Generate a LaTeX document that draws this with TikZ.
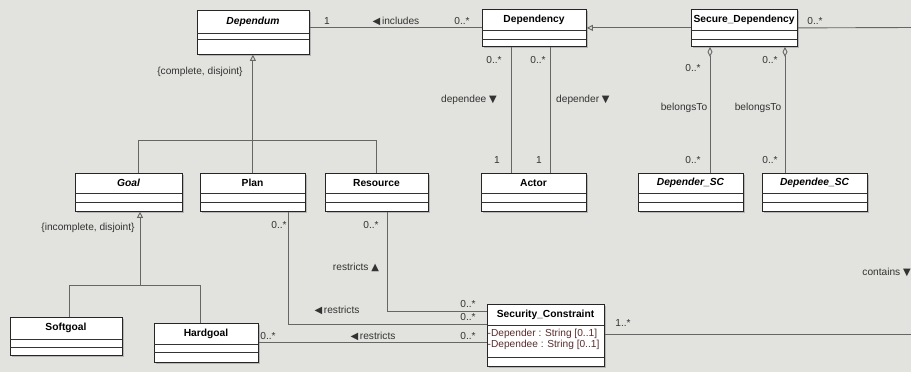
\documentclass[tikz,border=0pt]{standalone}
\usepackage{fontspec}
\setmainfont{Liberation Sans}
\newfontfamily\symfont{DejaVu Sans}
\usetikzlibrary{arrows.meta,shadows,calc}
\definecolor{bg}{HTML}{E2E3DE}
\definecolor{attrc}{HTML}{5A2C2C}
\definecolor{lnc}{HTML}{666666}
\newcommand\umlclass[8]{%
  \node[cls, minimum width=#4bp, minimum height=#5bp] (#1) at (#2,#3) {};
  \draw[sepline] ($(#1.north west)+(0,#6)$) -- ++(#4,0);
  \draw[sepline] ($(#1.north west)+(0,#7)$) -- ++(#4,0);
  \node[cname] (#1-t) at ($(#1.north west)+(#4/2,#6/2)$) {#8};
}
\newcommand\tri[1]{{\symfont\fontsize{10}{10}\selectfont #1}}
\begin{document}
\begin{tikzpicture}[x=1bp,y=-1bp,
  cls/.style={draw=black!85, fill=white, line width=0.8bp, inner sep=0, anchor=north west,
    drop shadow={shadow xshift=1.3bp, shadow yshift=-1.3bp, fill=black!45}},
  sepline/.style={draw=black!80, line width=0.7bp},
  cname/.style={font=\bfseries\fontsize{10.3}{12}\selectfont, inner sep=0},
  lbl/.style={font=\fontsize{10.2}{12}\selectfont, text=black!80, inner sep=0},
  attr/.style={font=\fontsize{10.2}{12}\selectfont, text=attrc, inner sep=0, anchor=west},
  conn/.style={draw=lnc, line width=0.9bp},
  gen/.style={conn, -{Triangle[open, length=6bp, width=6bp]}},
  agg/.style={conn, {Diamond[open, length=10bp, width=5bp]}-},
]
\fill[bg] (0,0) rectangle (911,372);
\useasboundingbox (0,0) rectangle (911,372);

% classes
\umlclass{dependum}{197}{10}{112}{44}{23}{29}{\itshape Dependum}
\umlclass{dependency}{482}{9}{104}{37}{21}{30}{Dependency}
\umlclass{securedep}{691}{9}{106}{37}{21}{30}{Secure\_Dependency}
\umlclass{goal}{75}{173}{107}{38}{20}{29}{\itshape Goal}
\umlclass{plan}{200}{173}{105}{38}{20}{29}{Plan}
\umlclass{resource}{325}{173}{103}{38}{20}{29}{Resource}
\umlclass{actor}{481}{173}{105}{38}{20}{29}{Actor}
\umlclass{dependersc}{638}{173}{105}{38}{20}{29}{\itshape Depender\_SC}
\umlclass{dependeesc}{762}{173}{105}{38}{20}{29}{\itshape Dependee\_SC}
\umlclass{softgoal}{10}{317}{112}{38}{22}{30}{Softgoal}
\umlclass{hardgoal}{154}{323}{104}{39}{21}{29}{Hardgoal}
\umlclass{sc}{487}{304}{117}{62}{21}{53}{Security\_Constraint}
\node[attr] (a1) at ($(sc.north west)+(0.5,30)$) {-Depender : String [0..1]};
\node[attr] (a2) at ($(sc.north west)+(0.5,41)$) {-Dependee : String [0..1]};

% Dependum -- Dependency (includes)
\draw[conn] (dependency.west -| dependum.east) -- (dependency.west);
\node[lbl] (m1) at (327,21) {1};
\node[lbl] (l1) at (396,21) {\tri{◀}\,includes};
\node[lbl] (m2) at (462,21) {0..*};

% Secure_Dependency -> Dependency
\draw[gen] (securedep.west) -- (dependency.east);
\coordinate (edge1) at (911,27.5);
\draw[conn] (securedep.east) -- (edge1);
\node[lbl] (m3) at (815,21) {0..*};

% dependee / depender
\coordinate (d1) at ($(dependency.south west)+(29,0)$);
\coordinate (d2) at ($(dependency.south west)+(68,0)$);
\draw[conn] (d1) -- (d1 |- actor.north);
\draw[conn] (d2) -- (d2 |- actor.north);
\node[lbl] (m4) at (494,60) {0..*};
\node[lbl] (m5) at (538,60) {0..*};
\node[lbl, anchor=east] (l2) at (497,100) {dependee \tri{▼}};
\node[lbl, anchor=west] (l3) at (556,100) {depender \tri{▼}};
\node[lbl] (m6) at (497,160) {1};
\node[lbl] (m7) at (539,160) {1};

% belongsTo
\coordinate (s1) at ($(securedep.south west)+(19,0)$);
\coordinate (s2) at ($(securedep.south west)+(94,0)$);
\draw[agg] (s1) -- (s1 |- dependersc.north);
\draw[agg] (s2) -- (s2 |- dependeesc.north);
\node[lbl] (m8) at (693,68) {0..*};
\node[lbl] (m9) at (770,60) {0..*};
\node[lbl] (l4) at (684,108) {belongsTo};
\node[lbl] (l5) at (758,108) {belongsTo};
\node[lbl] (m10) at (693,160) {0..*};
\node[lbl] (m11) at (770,160) {0..*};

% Dependum generalization
\coordinate (gb) at ($(plan.north)+(0,-33)$);
\coordinate (gl) at ($(goal.north west)+(63,0)$);
\draw[gen] (plan.north) -- (plan.north |- dependum.south);
\draw[conn] (gl) -- (gl |- gb) -- (resource.north |- gb) -- (resource.north);
\node[lbl] (c1) at (200,72) {\{complete, disjoint\}};

% Goal generalization
\coordinate (gt) at ($(goal.south west)+(65,0)$);
\coordinate (gb2) at (140,285);
\coordinate (sl) at ($(softgoal.north west)+(59,0)$);
\coordinate (hl) at ($(hardgoal.north west)+(46,0)$);
\draw[gen] (gt |- gb2) -- (gt);
\draw[conn] (sl) -- (sl |- gb2) -- (hl |- gb2) -- (hl);
\node[lbl] (c2) at (88,228) {\{incomplete, disjoint\}};

% restricts (Plan)
\coordinate (p1) at ($(plan.south west)+(88,0)$);
\coordinate (p2) at (p1 |- 0,324);
\draw[conn] (p1) -- (p2) -- (p2 -| sc.west);
\node[lbl] (m12) at (279,225) {0..*};
\node[lbl] (l6) at (337,310) {\tri{◀}\,restricts};
\node[lbl] (m13) at (468,317) {0..*};

% restricts (Resource)
\coordinate (r1) at ($(resource.south west)+(62,0)$);
\coordinate (r2) at (r1 |- 0,311);
\draw[conn] (r1) -- (r2) -- (r2 -| sc.west);
\node[lbl] (m14) at (371,225) {0..*};
\node[lbl] (l7) at (356,267) {restricts \tri{▲}};
\node[lbl] (m15) at (468,304) {0..*};

% restricts (Hardgoal)
\draw[conn] (hardgoal.east) -- (hardgoal.east -| sc.west);
\node[lbl] (m16) at (268,336) {0..*};
\node[lbl] (l8) at (373,336) {\tri{◀}\,restricts};
\node[lbl] (m17) at (468,336) {0..*};

% contains
\coordinate (edge2) at (911,334);
\draw[conn] (sc.east |- edge2) -- (edge2);
\node[lbl] (m18) at (623,323) {1..*};
\node[lbl, anchor=east] (l9) at (911,272) {contains \tri{▼}};
\end{tikzpicture}
\end{document}
